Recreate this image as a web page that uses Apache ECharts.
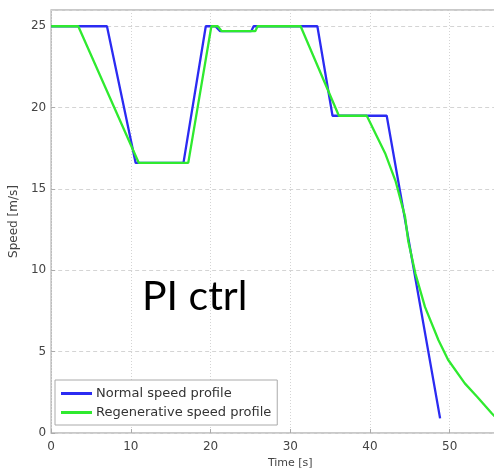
<!DOCTYPE html>
<html>
<head>
<meta charset="utf-8">
<script src="https://cdn.jsdelivr.net/npm/echarts@6/dist/echarts.min.js"></script>
<style>
  html, body { margin: 0; padding: 0; background: #fff; overflow: hidden; }
  #chart { width: 540px; height: 475px; }
</style>
</head>
<body>
<div id="chart"></div>
<script>
// Normal speed profile: time [s] and speed [m/s]
const normalTime  = [0, 7.0, 10.6, 16.6, 19.4, 20.6, 21.2, 25.1, 25.4, 33.4, 35.3, 42.1, 48.8];
const normalSpeed = [25, 25, 16.6, 16.6, 25, 25, 24.7, 24.7, 25, 25, 19.5, 19.5, 0.9];

// Regenerative speed profile: time [s] and speed [m/s]
const regenTime  = [0, 3.4, 11.0, 17.2, 20.1, 20.9, 21.4, 25.6, 25.9, 31.3, 36.1, 39.6, 41.9, 43.2, 44.4, 44.8, 45.7, 46.9, 48.6, 49.8, 51.9, 53.5, 55.3, 56.5];
const regenSpeed = [25, 25, 16.6, 16.6, 25, 25, 24.7, 24.7, 25, 25, 19.5, 19.5, 17.2, 15.5, 13.3, 11.8, 9.8, 7.75, 5.7, 4.5, 3.05, 2.2, 1.2, 0.6];

const xTicks = { min: 0, max: 60, step: 10 };
const yTicks = { min: 0, max: 26, step: 5 };

const seriesNames = ['Normal speed profile', 'Regenerative speed profile'];

const pairs = (xs, ys) => xs.map((x, i) => [x, ys[i]]);

// The canvas is a little wider than the page, so the right end of the
// time axis runs past the visible edge.
const chart = echarts.init(document.getElementById('chart'), null, { renderer: 'canvas' });

const labelFont = '"DejaVu Sans", Verdana, sans-serif';

chart.setOption({
  animation: false,
  backgroundColor: '#ffffff',
  grid: {
    left: 50, top: 10, bottom: 42, right: 8,
    show: true, borderColor: '#b8b8b8', borderWidth: 1.5
  },
  xAxis: {
    type: 'value',
    min: xTicks.min, max: xTicks.max, interval: xTicks.step,
    name: 'Time [s]', nameLocation: 'middle', nameGap: 25,
    nameTextStyle: { fontSize: 11, color: '#444', fontFamily: labelFont },
    axisLine: { show: false },
    axisTick: { show: true, inside: true, length: 4, lineStyle: { color: '#aaa' } },
    axisLabel: { fontSize: 12, color: '#444', fontFamily: labelFont, margin: 8 },
    splitLine: { show: true, lineStyle: { color: '#d4d4d4', type: [1, 2], width: 1 } }
  },
  yAxis: {
    type: 'value',
    min: yTicks.min, max: yTicks.max, interval: yTicks.step,
    name: 'Speed [m/s]', nameLocation: 'middle', nameGap: 27,
    nameTextStyle: { fontSize: 12, color: '#444', fontFamily: labelFont },
    axisLine: { show: false },
    axisTick: { show: true, inside: true, length: 4, lineStyle: { color: '#aaa' } },
    axisLabel: { fontSize: 12, color: '#444', fontFamily: labelFont, margin: 5, showMaxLabel: false },
    splitLine: { show: true, lineStyle: { color: '#d4d4d4', type: [4, 3], width: 1 } }
  },
  legend: {
    orient: 'vertical',
    left: 55, top: 380,
    padding: [7, 6, 6, 6],
    itemGap: 6,
    itemWidth: 31, itemHeight: 3,
    icon: 'rect',
    backgroundColor: '#ffffff',
    borderColor: '#aaaaaa', borderWidth: 1, borderRadius: 0,
    textStyle: { fontSize: 13, color: '#333', fontFamily: labelFont, padding: [0, 0, 0, -1] },
    data: seriesNames
  },
  graphic: [{
    type: 'text',
    left: 142, top: 276,
    style: { text: 'PI ctrl', font: '41px Lato, "Open Sans", sans-serif', fill: '#000' },
    z: 100
  }],
  series: [
    {
      name: seriesNames[0], type: 'line', showSymbol: false, symbol: 'none',
      data: pairs(normalTime, normalSpeed),
      itemStyle: { color: '#2b2bf2' },
      lineStyle: { color: '#2b2bf2', width: 2.3 },
      z: 3
    },
    {
      name: seriesNames[1], type: 'line', showSymbol: false, symbol: 'none',
      data: pairs(regenTime, regenSpeed),
      itemStyle: { color: '#2fea2f' },
      lineStyle: { color: '#2fea2f', width: 2.3 },
      z: 4
    }
  ]
});
</script>
</body>
</html>
